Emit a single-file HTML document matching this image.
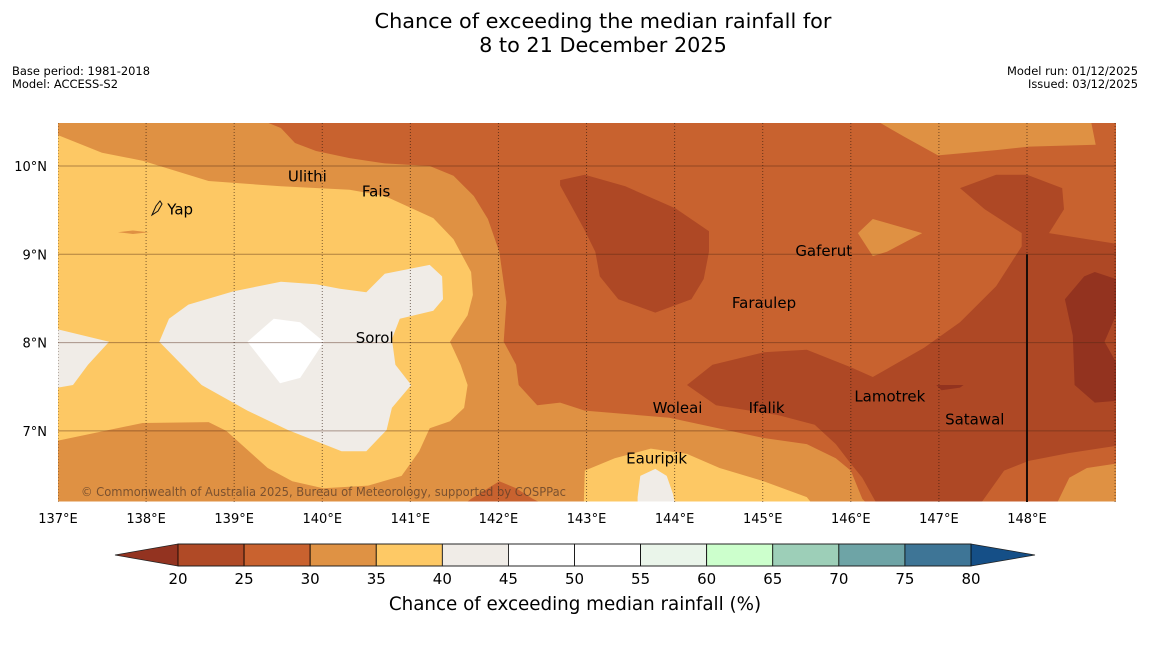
<!DOCTYPE html>
<html><head><meta charset="utf-8">
<style>
html,body{margin:0;padding:0;background:#fff;}
body{width:1150px;height:644px;overflow:hidden;font-family:"DejaVu Sans","Liberation Sans",sans-serif;}
svg text{font-family:"DejaVu Sans","Liberation Sans",sans-serif;}
</style></head>
<body>
<svg id="chart" width="1150" height="644" viewBox="0 0 1150 644" xmlns="http://www.w3.org/2000/svg">
  <text x="603" y="28" font-size="20.8" text-anchor="middle" fill="#000">Chance of exceeding the median rainfall for</text>
  <text x="603" y="52" font-size="20.8" text-anchor="middle" fill="#000">8 to 21 December 2025</text>
  <text x="12" y="75" font-size="11.5" textLength="138" lengthAdjust="spacingAndGlyphs">Base period: 1981-2018</text>
  <text x="12" y="88" font-size="11.5" textLength="106" lengthAdjust="spacingAndGlyphs">Model: ACCESS-S2</text>
  <text x="1138" y="75" font-size="11.5" text-anchor="end" textLength="131" lengthAdjust="spacingAndGlyphs">Model run: 01/12/2025</text>
  <text x="1138" y="88" font-size="11.5" text-anchor="end" textLength="110" lengthAdjust="spacingAndGlyphs">Issued: 03/12/2025</text>
  <defs><clipPath id="mapclip"><rect x="58" y="123" width="1058" height="379"/></clipPath></defs>
  <g id="map" clip-path="url(#mapclip)"></g>
  <g id="axes"></g>
  <g id="cbar"></g>
  <text x="575" y="610" font-size="18.3" text-anchor="middle">Chance of exceeding median rainfall (%)</text>
</svg>
<script>
// axis domain
const lonTicks = [137,138,139,140,141,142,143,144,145,146,147,148];
const latTicks = [10,9,8,7];
const cbarTicks = [20,25,30,35,40,45,50,55,60,65,70,75,80];
const cbarColors = ['#b04a26','#c9622f','#df9244','#fec965','#f0ece7','#ffffff','#ffffff','#eaf5ea','#ccffcc','#9dcfb8','#6ea4a6','#3e7596'];
const places = ['Ulithi','Fais','Yap','Gaferut','Faraulep','Sorol','Woleai','Ifalik','Lamotrek','Satawal','Eauripik'];
const placeLon = [139.61,140.45,138.24,145.37,144.65,140.38,143.75,144.84,146.04,147.07,143.45];
const placeLat = [9.88,9.71,9.51,9.04,8.45,8.05,7.26,7.26,7.39,7.13,6.69];
// contour polygons: [lon,lat,...], fill band
const bg25 = [137,10.49,149.01,10.49,149.01,6.2,137,6.2];
const band30 = [137,10.49,139.38,10.49,139.53,10.43,139.69,10.26,139.93,10.17,140.31,10.09,140.71,10.03,141.22,10,141.49,9.89,141.72,9.66,141.88,9.4,142.01,9.03,142.09,8.46,142.06,8.01,142.2,7.75,142.23,7.52,142.44,7.29,142.7,7.32,142.98,7.23,143.94,7.15,145.01,6.92,145.5,6.85,145.83,6.69,146,6.55,146.13,6.23,146.16,6.2,137,6.2];
const band25bump = [141.65,6.2,141.69,6.23,142.01,6.43,142.2,6.35,142.39,6.23,142.45,6.2];
const band30tr = [146.33,10.49,146.61,10.33,146.99,10.12,147.65,10.18,148.02,10.22,148.78,10.24,148.73,10.49];
const band30tri = [146.08,9.24,146.25,9.4,146.81,9.24,146.41,9.03,146.25,8.98];
const band30br = [148.35,6.2,148.48,6.47,148.68,6.58,149.01,6.63,149.01,6.2];
const band30left = [137,8.87,137.12,8.75,137,8.72];
const band30dash = [137.68,9.25,137.85,9.27,138.03,9.25,137.85,9.23];
const band35 = [137,10.35,137.5,10.15,137.96,10.06,138.71,9.83,139.53,9.77,140.31,9.73,140.71,9.66,141.26,9.41,141.49,9.17,141.69,8.8,141.71,8.54,141.65,8.31,141.45,8.01,141.57,7.75,141.65,7.52,141.61,7.26,141.45,7.11,141.22,7.03,141.1,6.77,140.9,6.49,140.52,6.38,140.01,6.35,139.66,6.43,139.38,6.58,138.91,7.0,138.71,7.1,137.96,7.09,137,6.89];
const band35b = [142.97,6.2,142.97,6.23,142.98,6.55,143.32,6.69,143.73,6.8,144.14,6.74,144.51,6.58,145.01,6.43,145.5,6.25,145.54,6.2];
const band40b = [143.58,6.2,143.58,6.25,143.61,6.49,143.78,6.57,143.91,6.49,143.98,6.29,144,6.2];
const band40 = [138.15,8.01,138.26,8.27,138.48,8.43,138.99,8.58,139.53,8.69,139.93,8.66,140.2,8.61,140.5,8.57,140.71,8.78,141.22,8.88,141.36,8.75,141.37,8.49,141.26,8.36,140.88,8.27,140.79,8.04,140.83,7.75,141.01,7.52,140.79,7.26,140.73,7.01,140.5,6.77,140.22,6.77,139.61,7.01,139.15,7.23,138.63,7.52];
const band40left = [137,8.15,137.58,8.01,137.34,7.75,137.17,7.52,137,7.49];
const band45 = [139.15,8.01,139.45,8.27,139.75,8.23,140.02,8.01,139.75,7.6,139.52,7.54];
const band20a = [142.7,9.84,142.98,9.9,143.44,9.77,144.01,9.52,144.39,9.26,144.39,9.03,144.33,8.72,144.19,8.49,143.78,8.34,143.36,8.49,143.15,8.75,143.1,9.03,142.97,9.29,142.7,9.78];
const band20b = [144.14,7.52,144.43,7.75,145.01,7.89,145.5,7.92,146,7.72,146.25,7.61,146.83,7.94,147.24,8.23,147.65,8.64,147.94,9.09,147.94,9.24,147.52,9.51,147.24,9.75,147.65,9.9,148,9.9,148.4,9.75,148.42,9.51,148.25,9.24,149.01,9.12,149.01,6.83,148.48,6.75,148.02,6.66,147.74,6.55,147.49,6.2,146.28,6.2,146.13,6.47,146,6.63,145.83,6.85,145.59,7.07,145.17,7.18,144.47,7.29];
const band15 = [148.65,8.75,148.77,8.8,149.01,8.72,149.01,8.31,148.88,8.01,149.01,7.78,149.01,7.34,148.77,7.32,148.54,7.52,148.52,8.08,148.43,8.49];
const band15tiny = [146.97,7.52,147.28,7.52,147.24,7.49,147.03,7.46];

const NS = 'http://www.w3.org/2000/svg';
const X = lon => 58 + (lon - 137) * 88.09;
const Y = lat => 166 + (10 - lat) * 88.3;
const CB = v => 178 + (v - 20) * (793 / 60);
function mk(tag, parent, attrs){const e=document.createElementNS(NS,tag);for(const k in attrs)e.setAttribute(k,attrs[k]);parent.appendChild(e);return e;}
const map = document.getElementById('map');
function poly(arr, fill, name){
  let pts=[];for(let i=0;i<arr.length;i+=2)pts.push(X(arr[i]).toFixed(1)+','+Y(arr[i+1]).toFixed(1));
  const p=mk('polygon',map,{points:pts.join(' '),fill:fill});
  
  
}
poly(bg25,'#c8622f','contour-25-30');
poly(band30,'#df9143','contour-30-35');
poly(band25bump,'#c8622f','contour-25-30-bump');
poly(band30tr,'#df9143','contour-30-35-ne');
poly(band30tri,'#df9143','contour-30-35-gaferut');
poly(band30br,'#df9143','contour-30-35-se');
poly(band30left,'#df9143','contour-30-35-w');
poly(band35,'#fdc864','contour-35-40');
poly(band30dash,'#df9143','contour-30-35-dash');
poly(band35b,'#fdc864','contour-35-40-s');
poly(band40b,'#f0ece7','contour-40-45-s');
poly(band40,'#f0ece7','contour-40-45');
poly(band40left,'#f0ece7','contour-40-45-w');
poly(band45,'#ffffff','contour-45-50');
poly(band20a,'#ae4825','contour-20-25-n');
poly(band20b,'#ae4825','contour-20-25-e');
poly(band15,'#93331f','contour-below-20');
poly(band15tiny,'#93331f','contour-below-20-tiny');

// gridlines
latTicks.forEach(v=>{const l=mk('line',map,{x1:58,x2:1116,y1:Y(v),y2:Y(v),stroke:'rgba(80,40,20,0.45)','stroke-width':1});
  
  });
lonTicks.concat([149]).forEach(v=>{const l=mk('line',map,{x1:X(v),x2:X(v),y1:123,y2:502,stroke:'rgba(40,20,10,0.6)','stroke-width':1,'stroke-dasharray':'1,2'});
  
  });
const vl=mk('line',map,{x1:X(148),x2:X(148),y1:Y(9),y2:502,stroke:'#1a0d08','stroke-width':2});


// Yap island
const yap=mk('path',map,{d:'M152,215 L156,206 L160,201 L162,204 L158,211 Z',fill:'none',stroke:'#111','stroke-width':1});


places.forEach((n,i)=>{const t=mk('text',map,{x:X(placeLon[i]),y:Y(placeLat[i]),'font-size':15,fill:'#000','dominant-baseline':'central'});t.textContent=n;
  
  });
const cp=mk('text',map,{x:81,y:496,'font-size':12,fill:'rgba(90,60,40,0.75)',textLength:485,lengthAdjust:'spacingAndGlyphs'});cp.textContent='© Commonwealth of Australia 2025, Bureau of Meteorology, supported by COSPPac';



const axes=document.getElementById('axes');
lonTicks.forEach(v=>{const t=mk('text',axes,{x:X(v),y:523,'font-size':13,'text-anchor':'middle'});t.textContent=v+'°E';
  
  });
latTicks.forEach(v=>{const t=mk('text',axes,{x:47,y:Y(v)+5,'font-size':13,'text-anchor':'end'});t.textContent=v+'°N';
  
  });

const cb=document.getElementById('cbar');
const lt=mk('polygon',cb,{points:`115,555 ${CB(20)},544 ${CB(20)},566`,fill:'#933320'});


const rt=mk('polygon',cb,{points:`1035,555 ${CB(80)},544 ${CB(80)},566`,fill:'#154f87'});


cbarColors.forEach((c,i)=>{const r=mk('rect',cb,{x:CB(cbarTicks[i]),y:544,width:CB(cbarTicks[i+1])-CB(cbarTicks[i]),height:22,fill:c,stroke:'#000','stroke-width':0.8});
  
  });
const ol=mk('polygon',cb,{points:`115,555 ${CB(20)},544 ${CB(80)},544 1035,555 ${CB(80)},566 ${CB(20)},566`,fill:'none',stroke:'#222','stroke-width':0.8});


cbarTicks.forEach(v=>{const t=mk('text',cb,{x:CB(v),y:584,'font-size':15,'text-anchor':'middle'});t.textContent=v;
  
  });
</script>
</body></html>
